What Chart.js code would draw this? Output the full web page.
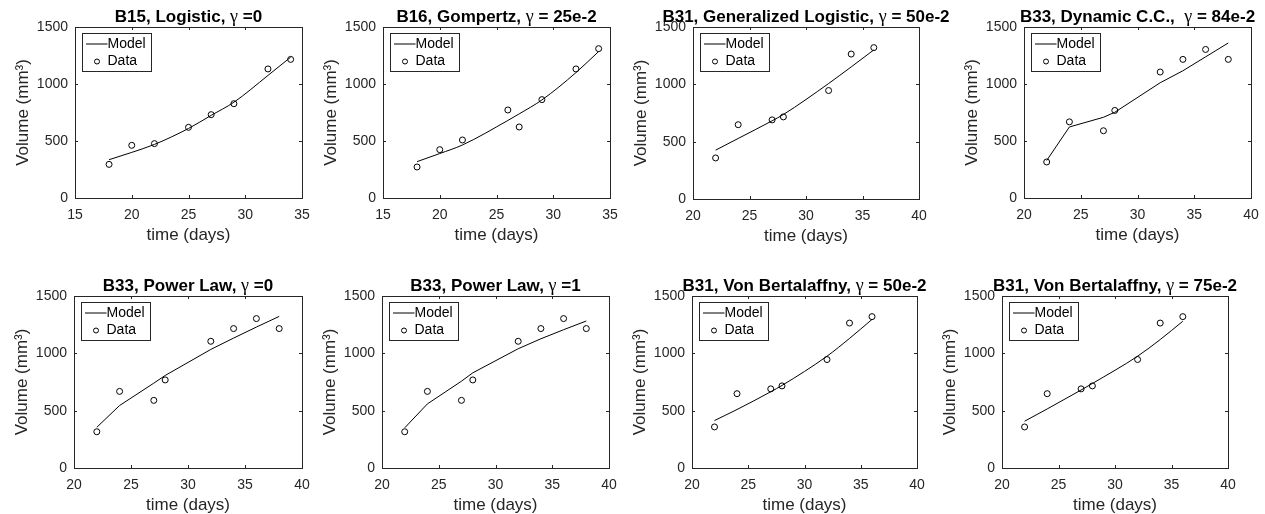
<!DOCTYPE html>
<html>
<head>
<meta charset="utf-8">
<script src="https://cdn.jsdelivr.net/npm/chart.js@4"></script>
<style>
  body { margin: 0; background: #fff; }
  #wrap { position: relative; width: 1265px; height: 514px; overflow: hidden; }
  #wrap canvas { position: absolute; }
</style>
</head>
<body>
<div id="wrap"></div>
<script>
const daysB15 = [18, 20, 22, 25, 27, 29, 32, 34];
const dataB15 = [295, 462, 477, 620, 731, 827, 1132, 1216];
const logisticB15 = [336, 400, 470, 610, 725, 840, 1075, 1235];

const daysB16 = [18, 20, 22, 26, 27, 29, 32, 34];
const dataB16 = [272, 424, 509, 772, 623, 863, 1132, 1310];
const gompertzB16 = [319, 390, 465, 680, 738, 860, 1100, 1285];

const daysB31 = [22, 24, 27, 28, 32, 34, 36];
const dataB31 = [358, 648, 690, 716, 946, 1264, 1320];
const genLogisticB31 = [426, 528, 682, 737, 1007, 1152, 1300];
const bertalaffny50B31 = [414, 510, 665, 720, 975, 1130, 1296];
const bertalaffny75B31 = [408, 515, 680, 737, 975, 1120, 1280];

const daysB33 = [22, 24, 27, 28, 32, 34, 36, 38];
const dataB33 = [316, 668, 590, 768, 1105, 1216, 1303, 1216];
const dynamicCCB33 = [329, 623, 708, 752, 1011, 1116, 1238, 1360];
const powerLaw0B33 = [355, 545, 740, 807, 1034, 1133, 1229, 1322];
const powerLaw1B33 = [350, 559, 757, 830, 1040, 1127, 1206, 1282];

const volumeTicks = [0, 500, 1000, 1500];

const panels = [
  { title: ['B15, Logistic, ', 'γ', ' =0'], days: daysB15, data: dataB15, model: logisticB15, xMin: 15, xMax: 35, smooth: true },
  { title: ['B16, Gompertz, ', 'γ', ' = 25e-2'], days: daysB16, data: dataB16, model: gompertzB16, xMin: 15, xMax: 35, smooth: true },
  { title: ['B31, Generalized Logistic, ', 'γ', ' = 50e-2'], days: daysB31, data: dataB31, model: genLogisticB31, xMin: 20, xMax: 40, smooth: true },
  { title: ['B33, Dynamic C.C.,  ', 'γ', ' = 84e-2'], days: daysB33, data: dataB33, model: dynamicCCB33, xMin: 20, xMax: 40, smooth: false },
  { title: ['B33, Power Law, ', 'γ', ' =0'], days: daysB33, data: dataB33, model: powerLaw0B33, xMin: 20, xMax: 40, smooth: false },
  { title: ['B33, Power Law, ', 'γ', ' =1'], days: daysB33, data: dataB33, model: powerLaw1B33, xMin: 20, xMax: 40, smooth: false },
  { title: ['B31, Von Bertalaffny, ', 'γ', ' = 50e-2'], days: daysB31, data: dataB31, model: bertalaffny50B31, xMin: 20, xMax: 40, smooth: true },
  { title: ['B31, Von Bertalaffny, ', 'γ', ' = 75e-2'], days: daysB31, data: dataB31, model: bertalaffny75B31, xMin: 20, xMax: 40, smooth: true }
];

// plot-area boxes on the page: left, top, width, height
const boxes = [
  [75, 27, 227, 171], [383, 27, 227, 171], [693, 27, 226, 172], [1024, 27, 227, 171],
  [74, 296, 228, 172], [382, 296, 227, 172], [692, 296, 225, 172], [1002, 296, 226, 172]
];

const FONT = '"Liberation Sans", Arial, Helvetica, sans-serif';
const INK = '#262626';
const LEFT = 75, RIGHT = 75, TOP = 27, BOTTOM = 48;

// matlab-ish axes: closed box, inward ticks, legend inside, title centred on the axes
const matlabAxes = {
  id: 'matlabAxes',
  afterDraw(chart, args, opts) {
    const { ctx, chartArea: a, scales } = chart;
    ctx.save();
    ctx.strokeStyle = INK;
    ctx.lineWidth = 1;
    ctx.strokeRect(Math.round(a.left) + 0.5, Math.round(a.top) + 0.5,
      Math.round(a.right - a.left), Math.round(a.bottom - a.top));

    ctx.beginPath();
    scales.x.ticks.forEach(t => {
      const px = Math.round(scales.x.getPixelForValue(t.value)) + 0.5;
      ctx.moveTo(px, a.bottom); ctx.lineTo(px, a.bottom - 3);
      ctx.moveTo(px, a.top); ctx.lineTo(px, a.top + 3);
    });
    scales.y.ticks.forEach(t => {
      const py = Math.round(scales.y.getPixelForValue(t.value)) + 0.5;
      ctx.moveTo(a.left, py); ctx.lineTo(a.left + 3, py);
      ctx.moveTo(a.right, py); ctx.lineTo(a.right - 3, py);
    });
    ctx.stroke();

    // legend
    const lx = Math.round(a.left) + 7.5, ly = Math.round(a.top) + 6.5;
    ctx.fillStyle = '#fff';
    ctx.fillRect(lx, ly, 69, 38);
    ctx.strokeRect(lx, ly, 69, 38);
    const sets = chart.data.datasets;
    ctx.strokeStyle = '#000';
    ctx.beginPath();
    ctx.moveTo(lx + 3.5, ly + 10.5); ctx.lineTo(lx + 25, ly + 10.5);
    ctx.stroke();
    ctx.beginPath();
    ctx.arc(lx + 14.5, ly + 28, 2.5, 0, Math.PI * 2);
    ctx.stroke();
    ctx.fillStyle = '#000';
    ctx.font = '14px ' + FONT;
    ctx.textBaseline = 'middle';
    ctx.textAlign = 'left';
    ctx.fillText(sets[0].label, lx + 25, ly + 11);
    ctx.fillText(sets[1].label, lx + 25, ly + 28);

    // title
    const [pre, sym, post] = opts.title;
    const bold = 'bold 17px ' + FONT;
    const greek = '18px "Liberation Serif", "DejaVu Serif", serif';
    ctx.font = bold; const w1 = ctx.measureText(pre).width, w3 = ctx.measureText(post).width;
    ctx.font = greek; const w2 = ctx.measureText(sym).width;
    let x = (a.left + a.right) / 2 - (w1 + w2 + w3) / 2;
    const base = a.top - 5;
    ctx.textBaseline = 'alphabetic';
    ctx.font = bold; ctx.fillText(pre, x, base); x += w1;
    ctx.font = greek; ctx.fillText(sym, x, base); x += w2;
    ctx.font = bold; ctx.fillText(post, x, base);
    ctx.restore();
  }
};

const wrap = document.getElementById('wrap');

panels.forEach((p, i) => {
  const [L, T, W, H] = boxes[i];
  const canvas = document.createElement('canvas');
  canvas.width = LEFT + W + RIGHT;
  canvas.height = TOP + H + BOTTOM;
  canvas.style.left = (L - LEFT) + 'px';
  canvas.style.top = (T - TOP) + 'px';
  wrap.appendChild(canvas);

  new Chart(canvas.getContext('2d'), {
    type: 'line',
    data: {
      datasets: [
        {
          label: 'Model',
          data: p.days.map((d, k) => ({ x: d, y: p.model[k] })),
          borderColor: '#000',
          borderWidth: 1,
          pointRadius: 0,
          cubicInterpolationMode: p.smooth ? 'monotone' : 'default',
          tension: 0,
          fill: false
        },
        {
          label: 'Data',
          data: p.days.map((d, k) => ({ x: d, y: p.data[k] })),
          showLine: false,
          pointStyle: 'circle',
          pointRadius: 3,
          pointBorderWidth: 1,
          pointBorderColor: '#000',
          pointBackgroundColor: 'rgba(0,0,0,0)'
        }
      ]
    },
    options: {
      responsive: false,
      animation: false,
      events: [],
      layout: { padding: { left: 0, right: RIGHT, top: TOP, bottom: 0 } },
      plugins: {
        legend: { display: false },
        tooltip: { enabled: false },
        title: { display: false },
        matlabAxes: { title: p.title }
      },
      scales: {
        x: {
          type: 'linear',
          min: p.xMin,
          max: p.xMax,
          afterFit: s => { s.height = BOTTOM; },
          grid: { display: false, drawTicks: false },
          border: { display: false },
          ticks: { stepSize: 5, color: INK, font: { family: FONT, size: 14 }, padding: 9, maxRotation: 0, callback: v => String(v) },
          title: { display: true, text: 'time (days)', color: INK, font: { family: FONT, size: 17 }, padding: 0 }
        },
        y: {
          type: 'linear',
          min: volumeTicks[0],
          max: volumeTicks[volumeTicks.length - 1],
          afterFit: s => { s.width = LEFT; },
          afterBuildTicks: s => { s.ticks = volumeTicks.map(v => ({ value: v })); },
          grid: { display: false, drawTicks: false },
          border: { display: false },
          ticks: { color: INK, font: { family: FONT, size: 14 }, padding: 7, callback: v => String(v) },
          title: { display: true, text: 'Volume (mm³)', color: INK, font: { family: FONT, size: 17 }, padding: { top: 13, bottom: 0 } }
        }
      }
    },
    plugins: [matlabAxes]
  });
});
</script>
</body>
</html>
